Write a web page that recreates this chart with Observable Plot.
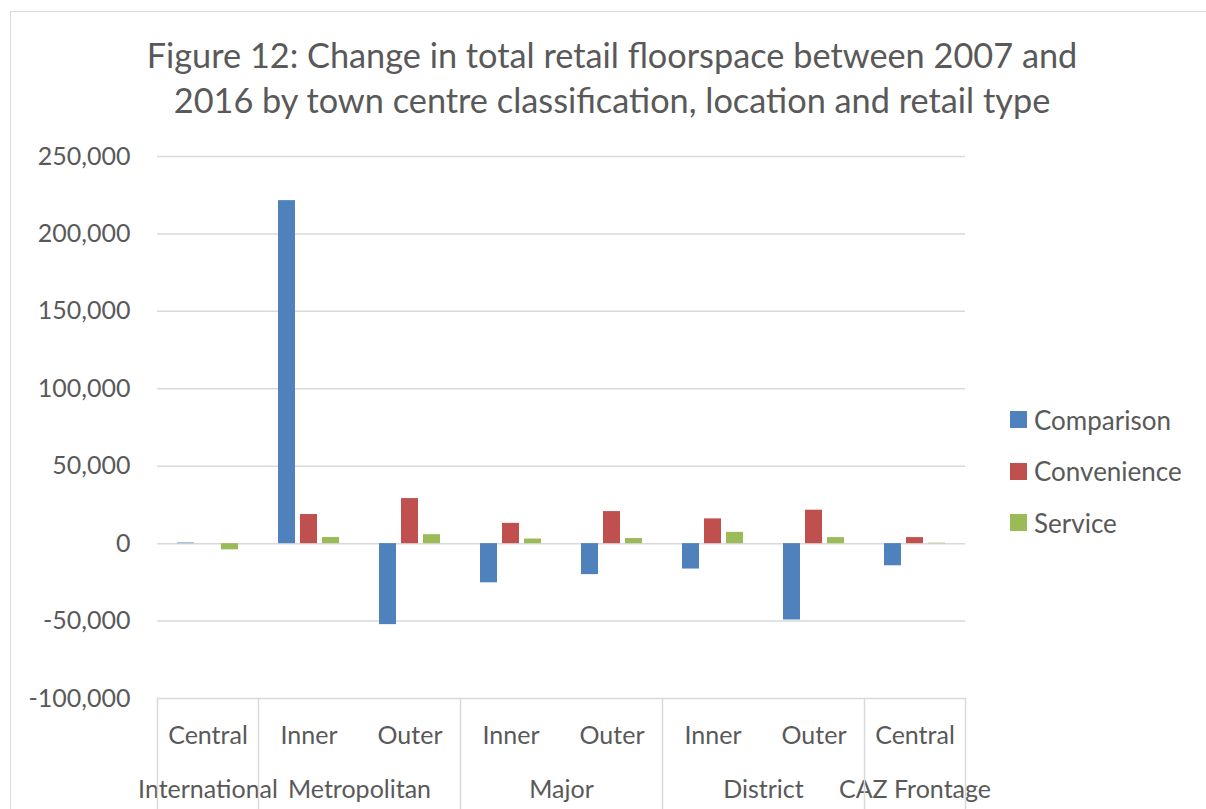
<!DOCTYPE html>
<html>
<head>
<meta charset="utf-8">
<script src="https://cdn.jsdelivr.net/npm/d3@7"></script>
<script src="https://cdn.jsdelivr.net/npm/@observablehq/plot@0.6"></script>
<style>
  html, body { margin: 0; padding: 0; background: #fff; }
  #wrap { position: relative; width: 1206px; height: 809px; overflow: hidden; font-family: Lato, "Open Sans", sans-serif; color: #595959; }
  #border { position: absolute; left: 10px; top: 11px; width: 1300px; height: 900px; border: 1.5px solid #d9d9d9; box-sizing: border-box; z-index: 5; pointer-events: none; }
  #title { position: absolute; left: 0; top: 0; width: 1224px; height: 140px; text-align: center; font-size: 34.3px; line-height: 45px; padding-top: 32px; box-sizing: border-box; }
  #chart { position: absolute; left: 0; top: 140px; }
  #legend { position: absolute; left: 1010px; top: 394px; font-size: 26px; }
  .item { display: flex; align-items: center; height: 51.5px; }
  .sw { width: 17px; height: 17px; margin-right: 7px; }
</style>
</head>
<body>
<div id="wrap">
  <div id="title">Figure 12: Change in total retail floorspace between 2007 and<br>2016 by town centre classification, location and retail type</div>
  <div id="chart"></div>
  <div id="legend"></div>
  <div id="border"></div>
</div>
<script>
// ---- data ----
const groups = ["International", "Metropolitan", "Metropolitan", "Major", "Major", "District", "District", "CAZ Frontage"];
const locations = ["Central", "Inner", "Outer", "Inner", "Outer", "Inner", "Outer", "Central"];
const types = ["Comparison", "Convenience", "Service"];
const comparison = [400, 221500, -52300, -25300, -20000, -16400, -49300, -14300];
const convenience = [0, 18800, 29100, 13100, 20700, 16000, 21600, 3900];
const service = [-4000, 4000, 5800, 3000, 3300, 7300, 3900, 300];
const yTicks = [-100000, -50000, 0, 50000, 100000, 150000, 200000, 250000];
const colors = ["#4F81BD", "#C0504D", "#9BBB59"];

// ---- derived tables ----
const keys = groups.map((g, i) => g + " " + locations[i]);
const seriesByType = {Comparison: comparison, Convenience: convenience, Service: service};
const rows = [];
keys.forEach((k, i) => types.forEach(t => rows.push({key: k, type: t, value: seriesByType[t][i]})));
const cells = keys.map((k, i) => ({key: k, location: locations[i]}));
const groupCells = [];
groups.forEach((g, i) => {
  if (i === 0 || groups[i - 1] !== g) {
    const span = groups.filter(x => x === g).length;
    groupCells.push({key: keys[i], group: g, span});
  }
});

const H = 669, MT = 16, MB = 111, ML = 155, MR = 239;
const gridColor = "#d9d9d9";
const fmt = d => d3.format(",")(d).replace("\u2212", "-");

const separators = groupCells.map(c => Plot.frame({
  anchor: "left", fx: () => c.key, stroke: gridColor, strokeWidth: 1.5,
  insetTop: H - MT - MB, insetBottom: -MB
}));
separators.push(Plot.frame({
  anchor: "right", fx: () => keys[keys.length - 1], stroke: gridColor, strokeWidth: 1.5,
  insetTop: H - MT - MB, insetBottom: -MB
}));

const chart = Plot.plot({
  width: 1206, height: H,
  marginTop: MT, marginBottom: MB, marginLeft: ML, marginRight: MR,
  style: {fontFamily: "Lato, 'Open Sans', sans-serif", fontSize: "25px", color: "#595959", background: "transparent", overflow: "visible"},
  fx: {domain: keys, padding: 0, axis: null},
  x: {domain: types, paddingInner: 0.22, paddingOuter: 0.855, axis: null},
  y: {domain: [-100000, 250000], axis: null},
  color: {domain: types, range: colors},
  marks: [
    Plot.ruleY(yTicks, {stroke: gridColor, strokeWidth: 1.5}),
    Plot.axisY(yTicks, {tickSize: 0, tickPadding: 27, tickFormat: fmt, fontSize: 25, label: null}),
    Plot.barY(rows, {fx: "key", x: "type", y: "value", fill: "type"}),
    Plot.text(cells, {fx: "key", text: "location", frameAnchor: "bottom", lineAnchor: "bottom", dy: 45, fontSize: 25}),
    Plot.text(groupCells.filter(c => c.span === 1), {fx: "key", text: "group", frameAnchor: "bottom", lineAnchor: "bottom", dy: 99, fontSize: 25}),
    Plot.text(groupCells.filter(c => c.span === 2), {fx: "key", text: "group", frameAnchor: "bottom-right", textAnchor: "middle", lineAnchor: "bottom", dy: 99, fontSize: 25}),
    ...separators
  ]
});
document.getElementById("chart").appendChild(chart);

// legend
const legend = document.getElementById("legend");
types.forEach((t, i) => {
  const item = document.createElement("div");
  item.className = "item";
  item.innerHTML = `<span class="sw" style="background:${colors[i]}"></span><span>${t}</span>`;
  legend.appendChild(item);
});
</script>
</body>
</html>
